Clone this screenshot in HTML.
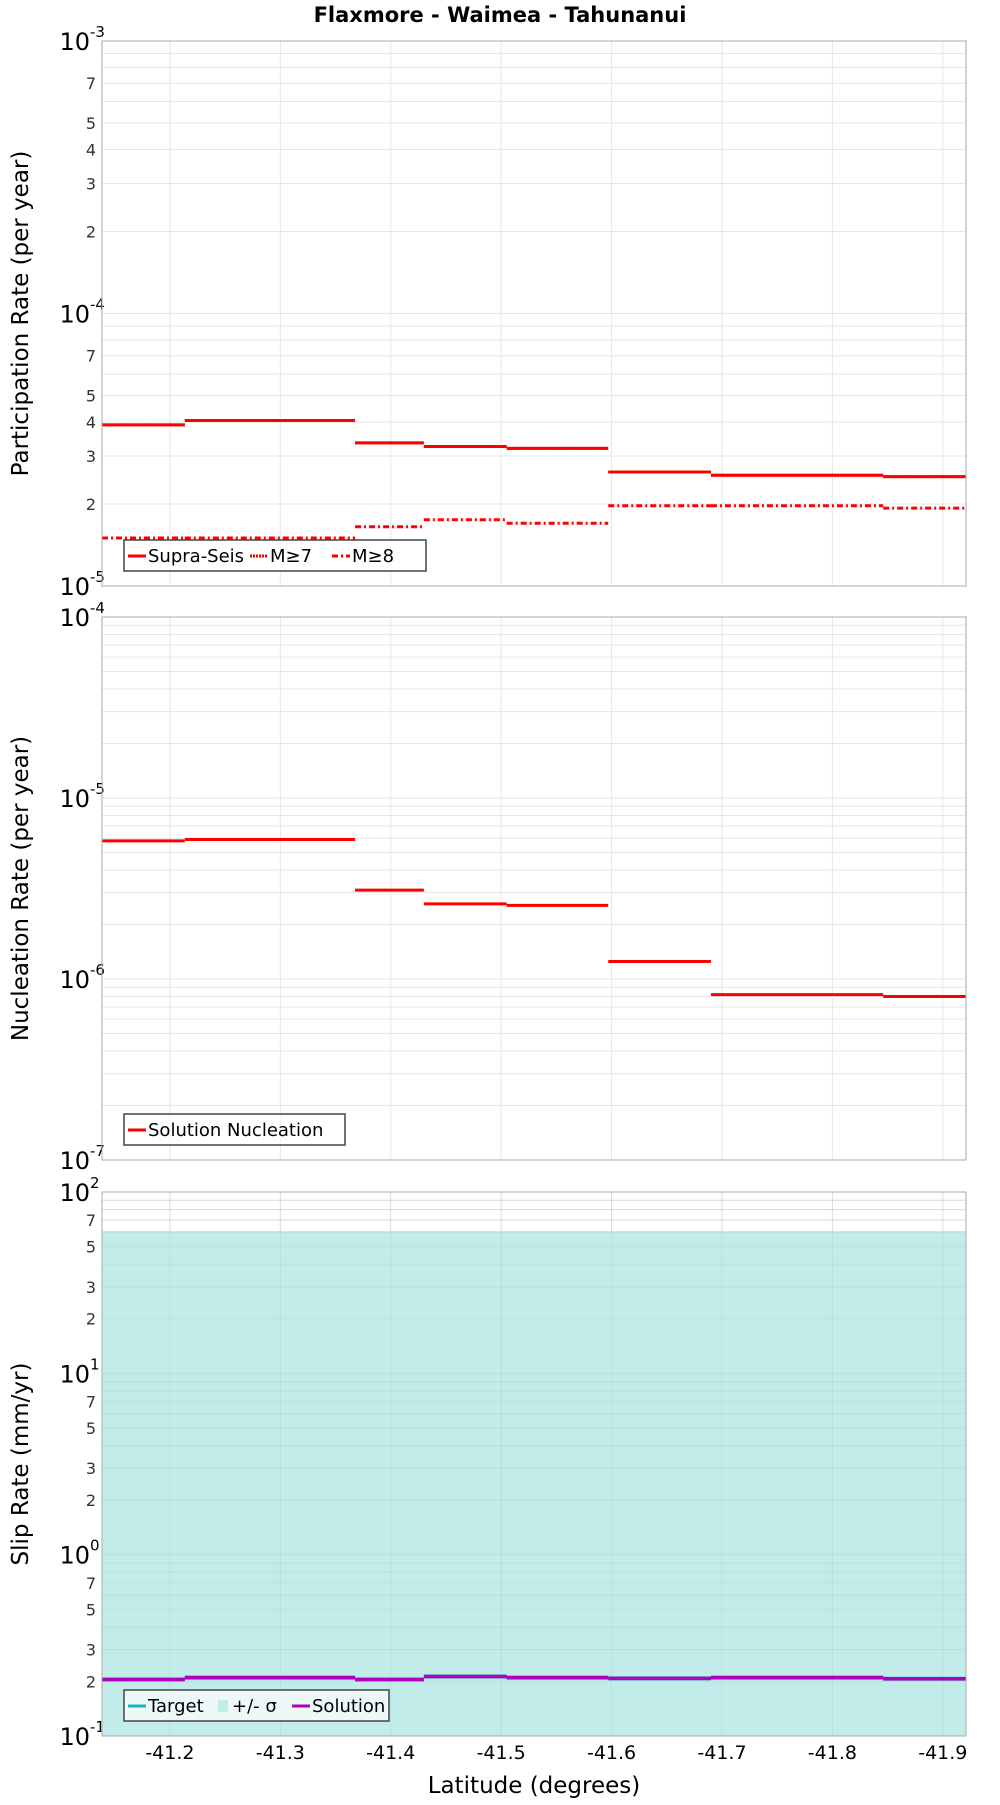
<!DOCTYPE html>
<html><head><meta charset="utf-8"><style>
body{margin:0;background:#fff}
svg text{font-family:"DejaVu Sans","Liberation Sans",sans-serif}
</style></head><body>
<svg id="c" width="1000" height="1800" xmlns="http://www.w3.org/2000/svg">
<text x="500" y="22" text-anchor="middle" font-weight="bold" font-size="21">Flaxmore - Waimea - Tahunanui</text>
</svg>
<script>
const bounds=[-41.1385,-41.2135,-41.3677,-41.430,-41.505,-41.597,-41.690,-41.846,-41.921];
const xTicks=[-41.2,-41.3,-41.4,-41.5,-41.6,-41.7,-41.8,-41.9];
const supraSeis=[3.9e-5,4.05e-5,3.35e-5,3.25e-5,3.2e-5,2.62e-5,2.55e-5,2.52e-5];
const m7=[3.9e-5,4.05e-5,3.35e-5,3.25e-5,3.2e-5,2.62e-5,2.55e-5,2.52e-5];
const m8=[1.5e-5,1.5e-5,1.65e-5,1.75e-5,1.7e-5,1.97e-5,1.97e-5,1.93e-5];
const nucleation=[5.8e-6,5.9e-6,3.1e-6,2.6e-6,2.55e-6,1.25e-6,0.82e-6,0.80e-6];
const target=[0.205,0.21,0.205,0.213,0.21,0.208,0.21,0.207];
const sigmaLow=[0.07,0.07,0.07,0.07,0.07,0.07,0.07,0.07];
const sigmaHigh=[61,61,61,61,61,61,61,61];
const solution=[0.205,0.21,0.205,0.213,0.21,0.208,0.21,0.207];

const svg=document.getElementById('c');const NS='http://www.w3.org/2000/svg';
function el(t,a,p){const e=document.createElementNS(NS,t);for(const k in a)e.setAttribute(k,a[k]);(p||svg).appendChild(e);return e;}
const L=102,R=966;
const xs=v=>L+(v-bounds[0])/(bounds[bounds.length-1]-bounds[0])*(R-L);
function panel(top,bot,d0,d1,minorLabels,ytitle,name){
  const g=el('g',{});
  const ys=v=>bot-(Math.log10(v)-d0)/(d1-d0)*(bot-top);
  el('rect',{x:L,y:top,width:R-L,height:bot-top,fill:'#fff'},g);
  const grid=el('g',{},g);
  for(let d=d0;d<d1;d++)for(let m=1;m<10;m++){const y=ys(m*Math.pow(10,d));
    el('line',{x1:L,x2:R,y1:y,y2:y,stroke:'#e6e6e6','stroke-width':1},grid);}
  xTicks.forEach(t=>el('line',{x1:xs(t),x2:xs(t),y1:top,y2:bot,stroke:'#e6e6e6'},grid));
  for(let d=d0;d<=d1;d++){const y=ys(Math.pow(10,d));
    const t=el('text',{x:90,y:y+9,'text-anchor':'end','font-size':24},g);t.textContent='10';
    
    const s=el('text',{x:90,y:y-4,'font-size':15},g);s.textContent=String(d);}
  if(minorLabels)for(let d=d0;d<d1;d++)minorLabels.forEach(m=>{const y=ys(m*Math.pow(10,d));
    const t=el('text',{x:96,y:y+6,'text-anchor':'end','font-size':16,fill:'#333'},g);t.textContent=m;});
  const yt=el('text',{x:0,y:0,'font-size':23,'text-anchor':'middle',transform:`translate(28,${(top+bot)/2}) rotate(-90)`},g);
  yt.textContent=ytitle;
  return {g,ys,top,bot};
}
function steps(p,vals,color,w,dash,name){
  vals.forEach((v,i)=>{const l=el('line',{x1:xs(bounds[i]),x2:xs(bounds[i+1]),y1:p.ys(v),y2:p.ys(v),stroke:color,'stroke-width':w},p.g);
    if(dash)l.setAttribute('stroke-dasharray',dash);
    });
}
function frame(p){el('rect',{x:L,y:p.top,width:R-L,height:p.bot-p.top,fill:'none',stroke:'#aaa'},p.g);}
function legend(p,x,y,w,items){
  const g=el('g',{},p.g);
  el('rect',{x:x,y:y,width:w,height:31,fill:'rgba(255,255,255,0.7)',stroke:'#444','stroke-width':1.5},g);
  let cx=x+4;items.forEach(it=>{
    if(it.box)el('rect',{x:cx,y:y+10,width:10,height:12,fill:it.c},g);
    else{const l=el('line',{x1:cx,x2:cx+18,y1:y+16,y2:y+16,stroke:it.c,'stroke-width':3},g);if(it.dash)l.setAttribute('stroke-dasharray',it.dash);}
    const t=el('text',{x:cx+(it.box?14:20),y:y+22,'font-size':18},g);t.textContent=it.t;
    
    cx+=(it.box?14:20)+it.w;});
}
const p1=panel(41,586,-5,-3,[2,3,4,5,7],'Participation Rate (per year)','participation-panel');
steps(p1,m8,'#f00',3,'6,3,2,3','m8-line');
steps(p1,supraSeis,'#f00',3,null,'supra-seis-line');
steps(p1,m7,'#f00',3,'2,1','m7-line');
frame(p1);
legend(p1,124,540,302,[{t:'Supra-Seis',c:'#f00',w:102},{t:'M≥7',c:'#f00',dash:'2,1',w:62},{t:'M≥8',c:'#f00',dash:'6,3,2,3',w:50}]);
const p2=panel(617,1160,-7,-4,null,'Nucleation Rate (per year)','nucleation-panel');
steps(p2,nucleation,'#f00',3,null,'nucleation-line');
frame(p2);
legend(p2,124,1114,221,[{t:'Solution Nucleation',c:'#f00',w:190}]);
const p3=panel(1192,1736,-1,2,[2,3,5,7],'Slip Rate (mm/yr)','slip-panel');
sigmaHigh.forEach((v,i)=>{const lo=Math.max(sigmaLow[i],0.1);
  const r=el('rect',{x:xs(bounds[i]),y:p3.ys(v),width:xs(bounds[i+1])-xs(bounds[i])+0.5,height:p3.ys(lo)-p3.ys(v),fill:'#c2ecea'},p3.g);
  });
const g3=el('g',{},p3.g);
for(let d=-1;d<2;d++)for(let m=1;m<10;m++){const y=p3.ys(m*Math.pow(10,d));el('line',{x1:L,x2:R,y1:y,y2:y,stroke:'rgba(0,0,0,0.05)'},g3);}
xTicks.forEach(t=>el('line',{x1:xs(t),x2:xs(t),y1:p3.top,y2:p3.bot,stroke:'rgba(0,0,0,0.05)'},g3));
steps(p3,target,'#1ab3b3',4,null,'target-line');
steps(p3,solution,'#b000c0',3.5,null,'solution-line');
frame(p3);
legend(p3,124,1690,265,[{t:'Target',c:'#1ab3b3',w:70},{t:'+/- σ',c:'#c2ecea',box:true,w:60},{t:'Solution',c:'#b000c0',w:80}]);
xTicks.forEach(t=>{const tx=el('text',{x:xs(t),y:1759,'text-anchor':'middle','font-size':19},svg);tx.textContent=t.toFixed(1);
  });
const xt=el('text',{x:534,y:1793,'text-anchor':'middle','font-size':23},svg);xt.textContent='Latitude (degrees)';

</script>
</body></html>
